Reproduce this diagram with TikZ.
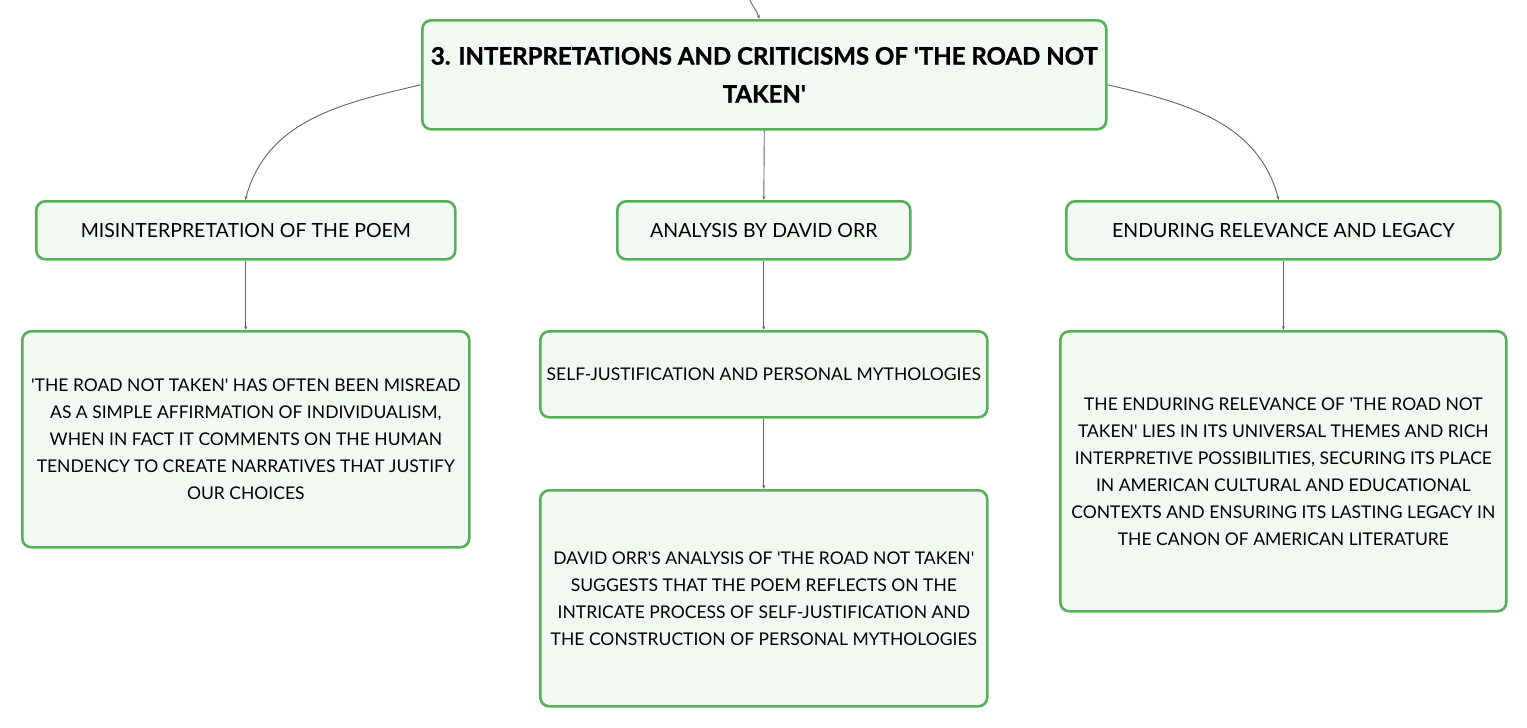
\documentclass[tikz,border=0pt]{standalone}
\usepackage{fontspec}
\setmainfont{Lato}[BoldFeatures={FakeBold=1.2}]
\usetikzlibrary{arrows.meta}
\definecolor{boxgreen}{RGB}{86,176,90}
\definecolor{boxfill}{RGB}{242,249,243}
\definecolor{linkgray}{RGB}{100,100,100}
\newcommand{\q}{\textquotesingle}
\begin{document}
\begin{tikzpicture}[x=1pt,y=-1pt]
			\tikzstyle{topic}=[draw=boxgreen,fill=boxfill,line width=2.6pt,rectangle,rounded corners=9pt,text centered,align=center,inner sep=4pt,anchor=north west]
			\tikzstyle{link}=[draw=linkgray,line width=0.9pt,-{Stealth[length=4pt,width=3pt]}]
			\useasboundingbox[fill=white] (0,0) rectangle (1527,728);
			
			\node[topic,minimum width=684pt,minimum height=109pt,font=\fontsize{24}{38}\selectfont\bfseries] (title) at (421,19) {3. INTERPRETATIONS AND CRITICISMS OF \q THE ROAD NOT\\TAKEN\q};
			
			\node[topic,minimum width=419pt,minimum height=58pt,font=\fontsize{19.5}{27}\selectfont] (mis) at (35,200) {MISINTERPRETATION OF THE POEM};
			\node[topic,minimum width=293pt,minimum height=58pt,font=\fontsize{19.5}{27}\selectfont] (orr) at (616,200) {ANALYSIS BY DAVID ORR};
			\node[topic,minimum width=434pt,minimum height=58pt,font=\fontsize{19.5}{27}\selectfont] (legacy) at (1065,200) {ENDURING RELEVANCE AND LEGACY};
			
			\node[topic,minimum width=447pt,minimum height=216pt,font=\fontsize{17.5}{27}\selectfont] (misnote) at (21,330) {\q THE ROAD NOT TAKEN\q\ HAS OFTEN BEEN MISREAD\\AS A SIMPLE AFFIRMATION OF INDIVIDUALISM,\\WHEN IN FACT IT COMMENTS ON THE HUMAN\\TENDENCY TO CREATE NARRATIVES THAT JUSTIFY\\OUR CHOICES};
			\node[topic,minimum width=447pt,minimum height=86pt,font=\fontsize{17.5}{27}\selectfont] (selfjust) at (539,330) {SELF-JUSTIFICATION AND PERSONAL MYTHOLOGIES};
			\node[topic,minimum width=447pt,minimum height=216pt,font=\fontsize{17.5}{27}\selectfont] (orrnote) at (539,489) {DAVID ORR\q S ANALYSIS OF \q THE ROAD NOT TAKEN\q\\SUGGESTS THAT THE POEM REFLECTS ON THE\\INTRICATE PROCESS OF SELF-JUSTIFICATION AND\\THE CONSTRUCTION OF PERSONAL MYTHOLOGIES};
			\node[topic,minimum width=446pt,minimum height=280pt,font=\fontsize{17.5}{27}\selectfont] (legacynote) at (1059,330) {THE ENDURING RELEVANCE OF \q THE ROAD NOT\\TAKEN\q\ LIES IN ITS UNIVERSAL THEMES AND RICH\\INTERPRETIVE POSSIBILITIES, SECURING ITS PLACE\\IN AMERICAN CULTURAL AND EDUCATIONAL\\CONTEXTS AND ENSURING ITS LASTING LEGACY IN\\THE CANON OF AMERICAN LITERATURE};
			
			\coordinate (parent) at (749,-2);
			
			\draw[link] (parent) to[out=-70,in=105] ([xshift=-5pt]title.north);
			\draw[link] ([yshift=-10pt]title.west) to[out=193,in=75] ([xshift=-0.5pt]mis.north);
			\draw[link] ([yshift=-10pt]title.east) to[out=-13,in=105] ([xshift=-4.5pt]legacy.north);
			\draw[link] (title.south) -- (orr.north);
			
			\draw[link] (mis.south) -- (mis.south |- misnote.north);
			\draw[link] (orr.south) -- (selfjust.north);
			\draw[link] (selfjust.south) -- (orrnote.north);
			\draw[link] (legacy.south) -- (legacy.south |- legacynote.north);
			
		\end{tikzpicture}
\end{document}
